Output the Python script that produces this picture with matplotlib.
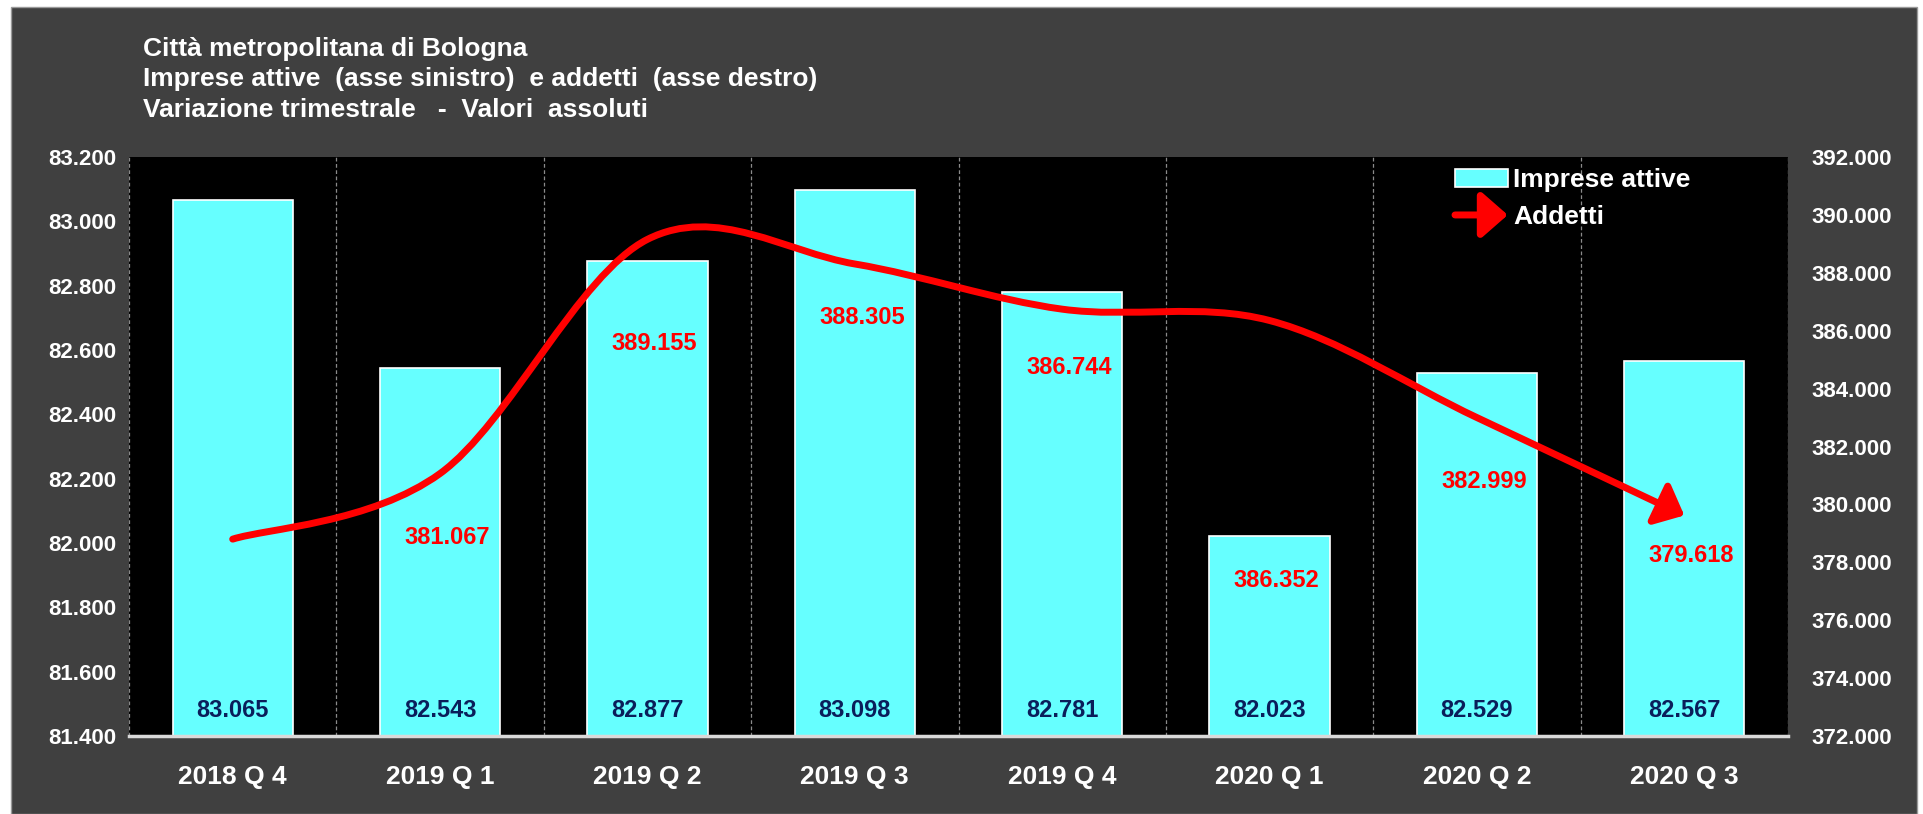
import numpy as np
import matplotlib
matplotlib.use("Agg")
import matplotlib.pyplot as plt
from matplotlib.path import Path
from matplotlib.patches import FancyArrowPatch, Rectangle
from matplotlib.legend_handler import HandlerBase
from matplotlib.ticker import FixedLocator, MultipleLocator, FuncFormatter

# dati
periodi = ["2018 Q 4", "2019 Q 1", "2019 Q 2", "2019 Q 3",
           "2019 Q 4", "2020 Q 1", "2020 Q 2", "2020 Q 3"]
imprese = [83065, 82543, 82877, 83098, 82781, 82023, 82529, 82567]
addetti = [378800, 381067, 389155, 388305, 386744, 386352, 382999, 379618]

# spostamento (in pixel) delle etichette degli addetti sotto il punto
addetti_label_dy = [None, 64, 104, 54, 58, 260, 64, 40]

BG = "#404040"
CYAN = "#66FFFF"
NAVY = "#0A1E5A"
RED = "#FF0000"

plt.rcParams["font.family"] = ["Liberation Sans", "DejaVu Sans"]
plt.rcParams["font.weight"] = "bold"


def migliaia(v, pos=None):
    return f"{v:,.0f}".replace(",", ".")


def excel_smooth_path(xs, ys):
    # curva smussata tipo Excel (Bezier cubiche stile Catmull-Rom)
    pts = np.column_stack([xs, ys]).astype(float)
    n = len(pts)
    verts = [pts[0]]
    codes = [Path.MOVETO]
    for i in range(n - 1):
        p_prev = pts[max(i - 1, 0)]
        p_next2 = pts[min(i + 2, n - 1)]
        c1 = pts[i] + (pts[i + 1] - p_prev) / 6
        c2 = pts[i + 1] - (p_next2 - pts[i]) / 6
        verts += [c1, c2, pts[i + 1]]
        codes += [Path.CURVE4] * 3
    return Path(np.array(verts), codes)


ARROW = "-|>,head_length=0.8,head_width=0.7"


class HandlerArrow(HandlerBase):
    def create_artists(self, legend, orig_handle, xdescent, ydescent,
                       width, height, fontsize, trans):
        y = height / 2 - ydescent
        a = FancyArrowPatch((-xdescent, y), (-xdescent + width, y),
                            arrowstyle=ARROW, mutation_scale=20,
                            lw=5, color=RED, capstyle="round",
                            shrinkA=0, shrinkB=0, transform=trans)
        return [a]


fig = plt.figure(figsize=(19.23, 8.14), dpi=100, facecolor="white")
fig.add_artist(Rectangle((11 / 1923, 0), (1917 - 11) / 1923, (814 - 7) / 814,
                         transform=fig.transFigure, facecolor=BG,
                         edgecolor="#9a9a9a", lw=1, zorder=-1))

ax = fig.add_axes([129 / 1923, 1 - 736 / 814, (1788 - 129) / 1923, (736 - 157) / 814])
ax.set_facecolor("black")
x = np.arange(len(periodi))

bars = ax.bar(x, imprese, width=0.58, color=CYAN, edgecolor="white",
              linewidth=1.2, label="Imprese attive", zorder=2)
ax.set_xlim(-0.5, len(periodi) - 0.5)
ax.set_ylim(81400, 83200)
ax.yaxis.set_major_locator(MultipleLocator(200))
ax.yaxis.set_major_formatter(FuncFormatter(migliaia))
ax.set_xticks(x)
ax.set_xticklabels(periodi)
ax.xaxis.set_minor_locator(FixedLocator(np.arange(len(periodi) + 1) - 0.5))
ax.grid(which="minor", axis="x", color="#8a8a8a", linestyle=(0, (3, 2)), lw=0.9, zorder=0)
ax.tick_params(axis="x", which="both", length=0, pad=21, labelsize=19, colors="white")
ax.tick_params(axis="y", length=0, pad=9, labelsize=16, colors="white")
for s in ["top", "left", "right"]:
    ax.spines[s].set_visible(False)
ax.spines["bottom"].set_color("#d9d9d9")
ax.spines["bottom"].set_linewidth(2.5)

for xi, v in zip(x, imprese):
    ax.annotate(migliaia(v), (xi, 81400), xytext=(0, 18.4), textcoords="offset points",
                ha="center", va="center", color=NAVY, fontsize=17, fontweight="bold")

ax2 = ax.twinx()
ax2.set_ylim(372000, 392000)
ax2.yaxis.set_major_locator(MultipleLocator(2000))
ax2.yaxis.set_major_formatter(FuncFormatter(migliaia))
ax2.tick_params(axis="y", length=0, pad=17, labelsize=16, colors="white")
for s in ax2.spines.values():
    s.set_visible(False)

curva = FancyArrowPatch(path=excel_smooth_path(x, addetti), arrowstyle=ARROW,
                        mutation_scale=20, lw=5, color=RED, capstyle="round",
                        joinstyle="round", transform=ax2.transData, zorder=3)
ax2.add_patch(curva)

for xi, v, dy in zip(x, addetti, addetti_label_dy):
    if dy is None:
        continue
    ax2.annotate(migliaia(v), (xi, v), xytext=(5, -dy * 0.72), textcoords="offset points",
                 ha="center", va="center", color=RED, fontsize=17, fontweight="bold")

proxy = FancyArrowPatch((0, 0), (1, 0), label="Addetti")
leg = ax2.legend([bars, proxy], ["Imprese attive", "Addetti"],
                 handler_map={FancyArrowPatch: HandlerArrow()},
                 loc="upper left", bbox_to_anchor=(1455 / 1923, 1 - 168 / 814),
                 bbox_transform=fig.transFigure, frameon=False, borderpad=0,
                 borderaxespad=0, handlelength=2.0, handleheight=0.7,
                 handletextpad=0.2, labelspacing=0.5,
                 prop=dict(weight="bold", size=19), labelcolor="white")

titoli = ["Città metropolitana di Bologna",
          "Imprese attive  (asse sinistro)  e addetti  (asse destro)",
          "Variazione trimestrale   -  Valori  assoluti"]
for t, ypx in zip(titoli, [49, 79, 110]):
    fig.text(143 / 1923, 1 - ypx / 814, t, color="white", fontsize=19,
             fontweight="bold", ha="left", va="center")

fig.savefig("out.png", dpi=100, facecolor=fig.get_facecolor())
